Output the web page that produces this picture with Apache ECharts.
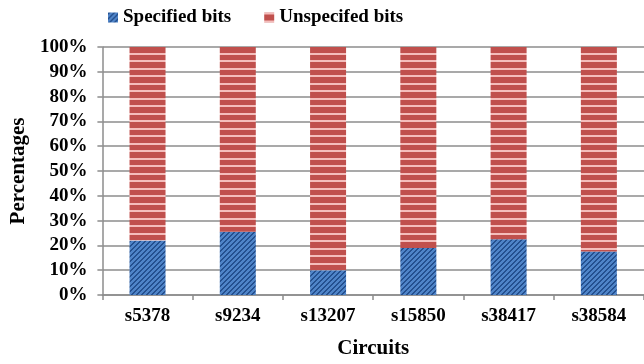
<!DOCTYPE html>
<html>
<head>
<meta charset="utf-8">
<script src="https://cdn.jsdelivr.net/npm/echarts@6/dist/echarts.min.js"></script>
<style>
html,body{margin:0;padding:0;background:#fff;}
#chart{width:644px;height:364px;}
</style>
</head>
<body>
<div id="chart"></div>
<script>
const categories = ['s5378', 's9234', 's13207', 's15850', 's38417', 's38584'];
const specifiedBits = [22, 25.5, 10, 19, 22.5, 17.5];
const unspecifiedBits = [78, 74.5, 90, 81, 77.5, 82.5];
const yTicks = { min: 0, max: 100, interval: 10 };

function bluePattern() {
  const c = document.createElement('canvas');
  c.width = 5; c.height = 5;
  const g = c.getContext('2d');
  g.fillStyle = '#4f84c8';
  g.fillRect(0, 0, 5, 5);
  g.fillStyle = '#24508f';
  for (let x = 0; x < 5; x++) {
    for (let y = 0; y < 5; y++) {
      if ((x + y) % 5 === 0 || (x + y) % 5 === 1) g.fillRect(x, y, 1, 1);
    }
  }
  return { image: c, repeat: 'repeat' };
}
function redPattern() {
  const c = document.createElement('canvas');
  c.width = 8; c.height = 15;
  const g = c.getContext('2d');
  g.fillStyle = '#c0504d';
  g.fillRect(0, 0, 8, 15);
  g.fillStyle = '#f4bdbb';
  g.fillRect(0, 0, 8, 2);
  g.fillRect(0, 8, 8, 2);
  return { image: c, repeat: 'repeat' };
}

const font = 'Liberation Serif';
const chart = echarts.init(document.getElementById('chart'), null, { renderer: 'canvas' });
chart.setOption({
  animation: false,
  legend: {
    left: 103, top: 3,
    itemWidth: 10, itemHeight: 10, itemGap: 33,
    icon: 'rect',
    textStyle: { fontFamily: font, fontWeight: 'bold', fontSize: 19, color: '#000' },
    data: ['Specified bits', 'Unspecifed bits']
  },
  grid: { left: 97, top: 47, width: 550, height: 250 },
  xAxis: {
    type: 'category',
    data: categories,
    name: 'Circuits',
    nameLocation: 'middle',
    nameGap: 43,
    nameTextStyle: { fontFamily: font, fontWeight: 'bold', fontSize: 21, color: '#000' },
    axisLine: { show: true, lineStyle: { color: '#8c8c8c', width: 1.5 } },
    axisTick: { show: true, length: 5, lineStyle: { color: '#8c8c8c', width: 1.5 } },
    axisLabel: { margin: 12, fontFamily: font, fontWeight: 'bold', fontSize: 19, color: '#000' }
  },
  yAxis: {
    type: 'value',
    min: yTicks.min, max: yTicks.max, interval: yTicks.interval,
    name: 'Percentages',
    nameLocation: 'middle',
    nameRotate: 90,
    nameGap: 71,
    nameTextStyle: { fontFamily: font, fontWeight: 'bold', fontSize: 21, color: '#000' },
    axisLine: { show: true, lineStyle: { color: '#8c8c8c', width: 1.5 } },
    axisTick: { show: true, length: 5, lineStyle: { color: '#8c8c8c', width: 1.5 } },
    splitLine: { show: true, lineStyle: { color: '#8c8c8c', width: 1.5 } },
    axisLabel: { margin: 15, formatter: '{value}%', fontFamily: font, fontWeight: 'bold', fontSize: 19, color: '#000' }
  },
  series: [
    {
      name: 'Specified bits', type: 'bar', stack: 'total', barWidth: 36,
      itemStyle: { color: bluePattern() },
      data: specifiedBits
    },
    {
      name: 'Unspecifed bits', type: 'bar', stack: 'total', barWidth: 36,
      itemStyle: { color: redPattern() },
      data: unspecifiedBits
    }
  ]
});
</script>
</body>
</html>
